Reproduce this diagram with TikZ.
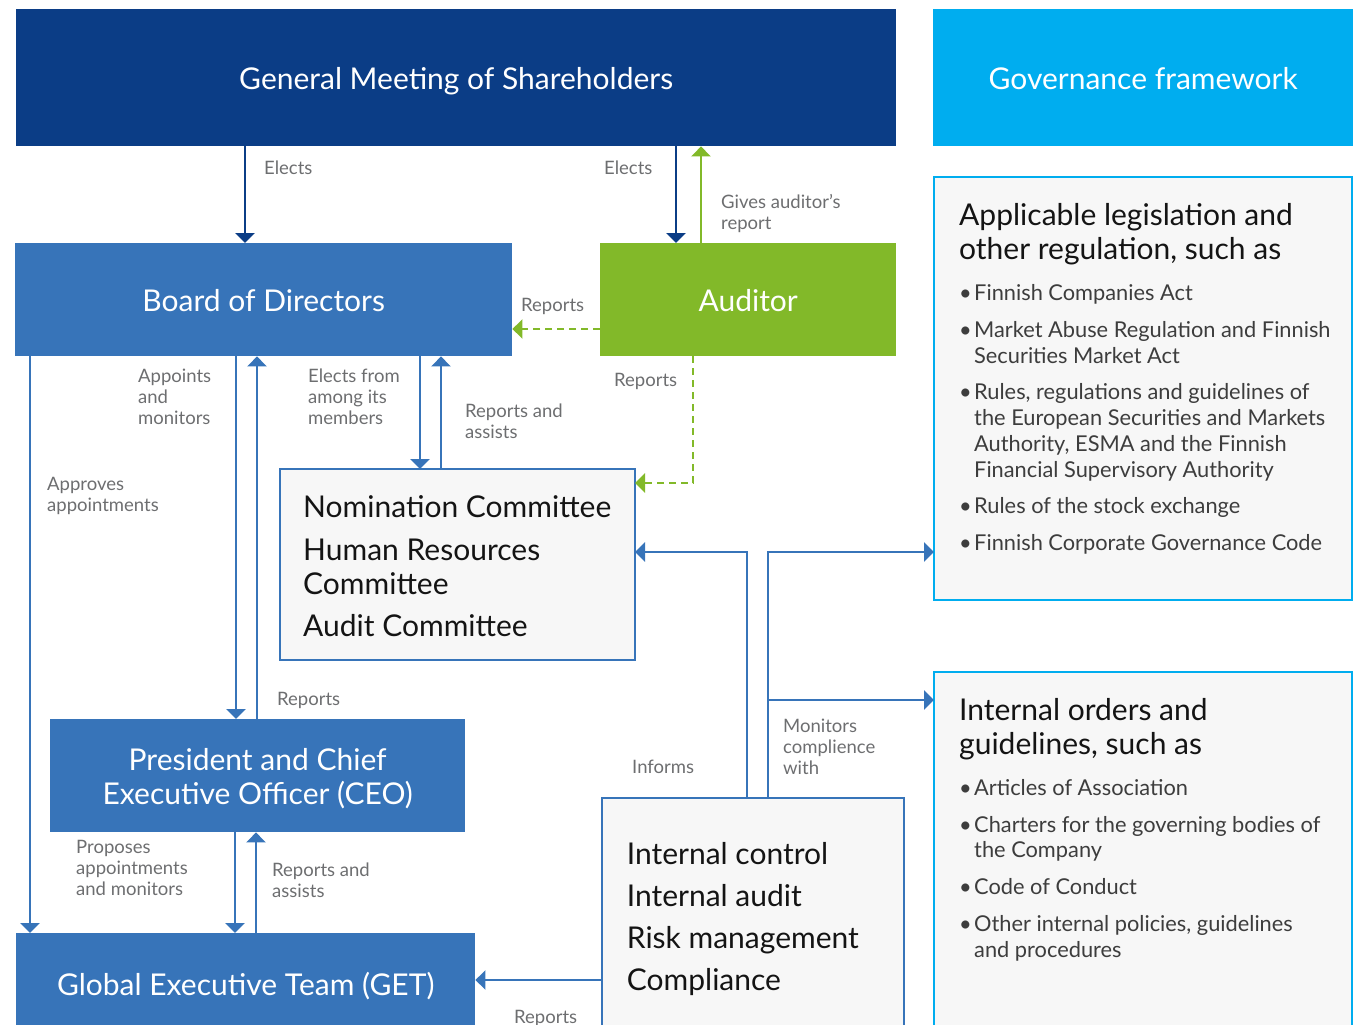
\documentclass[tikz,border=0pt]{standalone}
\usepackage{fontspec}
\setmainfont{Lato}
\usetikzlibrary{arrows.meta,positioning}
\definecolor{gmsblue}{HTML}{0B3D86}
\definecolor{orgblue}{HTML}{3774B9}
\definecolor{audgreen}{HTML}{82B929}
\definecolor{frameblue}{HTML}{00ADEF}
\definecolor{panelgray}{HTML}{F7F7F7}
\definecolor{lblgray}{HTML}{6D6E70}
\definecolor{listgray}{HTML}{3D3D3D}
\newcommand{\bul}{\makebox[15pt][l]{\textbullet}}
\newcommand{\ind}{\hspace*{15pt}}

\begin{document}
\begin{tikzpicture}[x=1pt,y=-1pt,
	box/.style={anchor=north west,inner sep=0pt,text=white,align=center,
		font=\fontsize{30pt}{34pt}\selectfont,text height=24.5pt,text depth=0pt},
	panel/.style={anchor=north west,inner sep=0pt,outer sep=0pt,fill=panelgray,line width=2.5pt},
	body/.style={anchor=base west,inner sep=0pt,align=left,text=black!92,
		font=\fontsize{30pt}{34pt}\selectfont},
	lst/.style={anchor=base west,inner sep=0pt,align=left,text=listgray,
		font=\fontsize{21.8pt}{25.7pt}\selectfont},
	lbl/.style={anchor=base west,inner sep=0pt,align=left,text=lblgray,
		font=\fontsize{18.5pt}{21pt}\selectfont},
	arr/.style={draw=orgblue,line width=2.8pt,-{Triangle[width=19pt,length=10pt]}},
	garr/.style={arr,draw=audgreen},
	gdash/.style={garr,dash pattern=on 7pt off 5pt}]
		\useasboundingbox (0,0) rectangle (1353,1025);
		\clip (0,0) rectangle (1353,1025);
		\node[box,fill=gmsblue,minimum width=880pt,minimum height=137pt] (gms) at (16,9) {General Meeting of Shareholders};
		\node[box,fill=frameblue,minimum width=420pt,minimum height=137pt] (gov) at (933,9) {Governance framework};
		\node[box,fill=orgblue,minimum width=497pt,minimum height=113pt] (board) at (15,243) {Board of Directors};
		\node[box,fill=audgreen,minimum width=296pt,minimum height=113pt] (aud) at (600,243) {Auditor};
		\node[box,fill=orgblue,minimum width=415pt,minimum height=113pt,text height=58.5pt] (ceo) at (50,719) {President and Chief\\Executive Officer (CEO)};
		\node[box,fill=orgblue,minimum width=459pt,minimum height=100pt] (get) at (16,933) {Global Executive Team (GET)};
		\node[panel,draw=orgblue,minimum width=355pt,minimum height=191pt] (comm) at (280,469) {};
		\node[panel,draw=orgblue,minimum width=302pt,minimum height=260pt] (ic) at (602,798) {};
		\node[panel,draw=frameblue,minimum width=418pt,minimum height=423pt] (laws) at (934,177) {};
		\node[panel,draw=frameblue,minimum width=418pt,minimum height=380pt] (orders) at (934,672) {};
		
		\node[body] (t_comm) at ([xshift=23pt,yshift=-167.5pt]comm.north west)
		{Nomination Committee\\[8.5pt]Human Resources\\Committee\\[8.5pt]Audit Committee};
		\node[body] (t_ic) at ([xshift=24.7pt,yshift=-192.3pt]ic.north west)
		{Internal control\\[8pt]Internal audit\\[8pt]Risk management\\[8pt]Compliance};
		\node[body] (t_laws) at ([xshift=25pt,yshift=-82.3pt]laws.north west)
		{Applicable legislation and\\other regulation, such as};
		\node[lst] (t_lawslist) at ([xshift=25pt,yshift=-373.4pt]laws.north west)
		{\bul Finnish Companies Act\\[11pt]
			\bul Market Abuse Regulation and Finnish\\\ind Securities Market Act\\[11pt]
			\bul Rules, regulations and guidelines of\\\ind the European Securities and Markets\\\ind Authority, ESMA and the Finnish\\\ind Financial Supervisory Authority\\[11pt]
			\bul Rules of the stock exchange\\[11pt]
			\bul Finnish Corporate Governance Code};
		\node[body] (t_orders) at ([xshift=25pt,yshift=-82.3pt]orders.north west)
		{Internal orders and\\guidelines, such as};
		\node[lst] (t_orderslist) at ([xshift=25pt,yshift=-285pt]orders.north west)
		{\bul Articles of Association\\[11pt]
			\bul Charters for the governing bodies of\\\ind the Company\\[11pt]
			\bul Code of Conduct\\[11pt]
			\bul Other internal policies, guidelines\\\ind and procedures};
		
		\draw[arr,draw=gmsblue] ([xshift=229pt]gms.south west) -- ([xshift=230pt]board.north west);
		\draw[arr,draw=gmsblue] ([xshift=660pt]gms.south west) -- ([xshift=76pt]aud.north west);
		\draw[garr] ([xshift=101pt]aud.north west) -- ([xshift=685pt]gms.south west);
		\draw[gdash] ([yshift=-86pt]aud.north west) -- ([yshift=-86pt]board.north east);
		\draw[gdash] ([xshift=93pt]aud.south west) |- ([yshift=-14pt]comm.north east);
		\draw[arr] ([xshift=221pt]board.south west) -- ([xshift=186pt]ceo.north west);
		\draw[arr] ([xshift=207pt]ceo.north west) -- ([xshift=242pt]board.south west);
		\draw[arr] ([xshift=405pt]board.south west) -- ([xshift=140pt]comm.north west);
		\draw[arr] ([xshift=161pt]comm.north west) -- ([xshift=426pt]board.south west);
		\draw[arr] ([xshift=15pt]board.south west) -- ([xshift=14pt]get.north west);
		\draw[arr] ([xshift=185pt]ceo.south west) -- ([xshift=219pt]get.north west);
		\draw[arr] ([xshift=240pt]get.north west) -- ([xshift=206pt]ceo.south west);
		\draw[arr] ([yshift=-182pt]ic.north west) -- ([yshift=-47pt]get.north east);
		\draw[arr] ([xshift=145pt]ic.north west) |- ([yshift=-83pt]comm.north east);
		\draw[arr] ([xshift=166pt]ic.north west) |- ([yshift=-375pt]laws.north west);
		\draw[arr] ([xshift=166pt]ic.north west) |- ([yshift=-28pt]orders.north west);
		
		\node[lbl] (l_1) at (264,174) {Elects};
		\node[lbl] (l_2) at (604,174) {Elects};
		\node[lbl] (l_3) at (721,229) {Gives auditor’s\\report};
		\node[lbl] (l_4) at (521,311) {Reports};
		\node[lbl] (l_5) at (614,386) {Reports};
		\node[lbl] (l_6) at (138,424) {Appoints\\and\\monitors};
		\node[lbl] (l_7) at (308,424) {Elects from\\among its\\members};
		\node[lbl] (l_8) at (465,438) {Reports and\\assists};
		\node[lbl] (l_9) at (47,511) {Approves\\appointments};
		\node[lbl] (l_10) at (277,705) {Reports};
		\node[lbl] (l_11) at (76,895) {Proposes\\appointments\\and monitors};
		\node[lbl] (l_12) at (272,897) {Reports and\\assists};
		\node[lbl] (l_13) at (514,1023) {Reports};
		\node[lbl] (l_14) at (632,773) {Informs};
		\node[lbl] (l_15) at (783,774) {Monitors\\complience\\with};
	\end{tikzpicture}
\end{document}
